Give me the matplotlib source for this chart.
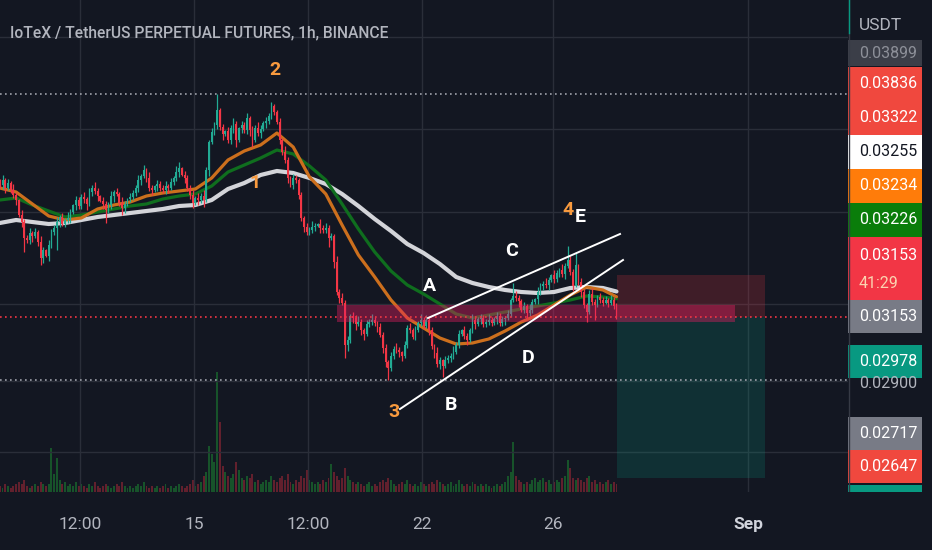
import numpy as np
import pandas as pd
import matplotlib
matplotlib.use("Agg")
import matplotlib.pyplot as plt
import matplotlib.dates as mdates
from matplotlib.patches import Rectangle

plt.rcParams['font.family'] = ['Roboto', 'DejaVu Sans']

# IOTX/USDT perp, 2h candles starting 2021-08-09 00:00, prices in 1e-5 USDT
first_open = 3693
closes = [
    3681, 3701, 3669, 3689, 3661, 3641, 3621, 3561, 3533, 3469,
    3461, 3489, 3477, 3493, 3453, 3389, 3421, 3397, 3441, 3493,
    3509, 3533, 3553, 3525, 3541, 3549, 3573, 3601, 3621, 3597,
    3633, 3625, 3605, 3653, 3669, 3657, 3637, 3617, 3605, 3581,
    3601, 3637, 3653, 3645, 3609, 3589, 3605, 3625, 3633, 3649,
    3669, 3701, 3717, 3741, 3709, 3669, 3661, 3677, 3685, 3669,
    3661, 3677, 3669, 3693, 3709, 3733, 3749, 3721, 3709, 3669,
    3641, 3609, 3629, 3621, 3637, 3621, 3741, 3853, 3893, 3921,
    3981, 3913, 3885, 3897, 3861, 3909, 3925, 3861, 3909, 3921,
    3901, 3949, 3901, 3861, 3909, 3889, 3905, 3929, 3937, 3957,
    3997, 3973, 3933, 3861, 3813, 3781, 3709, 3681, 3709, 3701,
    3641, 3549, 3513, 3493, 3501, 3513, 3517, 3525, 3509, 3501,
    3509, 3469, 3477, 3373, 3253, 3229, 3209, 3041, 3061, 3157,
    3149, 3125, 3133, 3101, 3085, 3125, 3133, 3141, 3129, 3113,
    3081, 3029, 2973, 2949, 2997, 3025, 3021, 3013, 2997, 3041,
    3109, 3101, 3073, 3101, 3129, 3141, 3117, 3141, 3101, 3037,
    3009, 2965, 2981, 2957, 2981, 2989, 2997, 3013, 3041, 3085,
    3101, 3077, 3061, 3101, 3141, 3125, 3145, 3149, 3125, 3133,
    3141, 3129, 3145, 3157, 3129, 3145, 3149, 3165, 3221, 3237,
    3229, 3217, 3181, 3197, 3169, 3181, 3213, 3225, 3253, 3277,
    3285, 3281, 3301, 3321, 3305, 3329, 3341, 3325, 3357, 3381,
    3333, 3277, 3361, 3293, 3253, 3201, 3173, 3245, 3213, 3201,
    3233, 3221, 3209, 3221, 3209, 3221, 3197, 3153]
highs = [
    3705, 3721, 3709, 3705, 3699, 3685, 3655, 3627, 3579, 3545,
    3481, 3509, 3497, 3509, 3503, 3477, 3435, 3427, 3459, 3505,
    3521, 3553, 3561, 3569, 3551, 3573, 3587, 3607, 3639, 3633,
    3645, 3653, 3633, 3669, 3679, 3693, 3671, 3643, 3635, 3617,
    3613, 3657, 3661, 3669, 3655, 3633, 3619, 3631, 3651, 3661,
    3681, 3721, 3725, 3761, 3751, 3733, 3683, 3683, 3703, 3697,
    3681, 3697, 3685, 3709, 3719, 3757, 3773, 3755, 3739, 3721,
    3679, 3661, 3637, 3647, 3649, 3661, 3755, 3861, 3911, 3933,
    4045, 3989, 3927, 3903, 3913, 3919, 3949, 3939, 3915, 3939,
    3933, 3969, 3957, 3917, 3919, 3933, 3919, 3935, 3955, 3969,
    4013, 4005, 3981, 3949, 3871, 3837, 3795, 3715, 3727, 3721,
    3709, 3655, 3557, 3531, 3513, 3537, 3531, 3531, 3543, 3521,
    3527, 3521, 3491, 3485, 3397, 3267, 3249, 3221, 3077, 3165,
    3173, 3161, 3157, 3147, 3109, 3143, 3145, 3165, 3155, 3137,
    3131, 3093, 3045, 2981, 3015, 3037, 3049, 3035, 3019, 3059,
    3121, 3129, 3111, 3117, 3139, 3165, 3155, 3161, 3159, 3113,
    3047, 3033, 2995, 2987, 2999, 3001, 3009, 3037, 3055, 3101,
    3107, 3119, 3089, 3111, 3165, 3155, 3153, 3167, 3161, 3145,
    3165, 3155, 3151, 3175, 3169, 3159, 3157, 3181, 3231, 3289,
    3257, 3243, 3225, 3213, 3207, 3205, 3227, 3231, 3271, 3289,
    3297, 3309, 3315, 3327, 3339, 3341, 3351, 3365, 3371, 3437,
    3399, 3345, 3409, 3367, 3311, 3265, 3209, 3263, 3269, 3227,
    3241, 3251, 3235, 3239, 3231, 3243, 3235, 3209]
lows = [
    3671, 3665, 3647, 3661, 3647, 3629, 3601, 3555, 3515, 3413,
    3451, 3445, 3455, 3469, 3439, 3361, 3369, 3391, 3379, 3429,
    3483, 3421, 3511, 3517, 3511, 3529, 3529, 3567, 3583, 3585,
    3587, 3609, 3583, 3597, 3639, 3645, 3617, 3611, 3587, 3529,
    3571, 3585, 3615, 3637, 3595, 3561, 3569, 3599, 3615, 3621,
    3639, 3653, 3679, 3709, 3695, 3657, 3641, 3655, 3659, 3657,
    3651, 3645, 3647, 3661, 3679, 3697, 3713, 3715, 3691, 3657,
    3627, 3589, 3603, 3603, 3609, 3593, 3611, 3719, 3845, 3881,
    3907, 3901, 3863, 3879, 3849, 3847, 3889, 3833, 3855, 3891,
    3889, 3885, 3879, 3833, 3853, 3877, 3869, 3899, 3911, 3925,
    3947, 3961, 3925, 3845, 3799, 3769, 3689, 3675, 3663, 3689,
    3627, 3537, 3493, 3481, 3483, 3489, 3497, 3511, 3491, 3489,
    3489, 3433, 3461, 3351, 3241, 3209, 3201, 2989, 3019, 3049,
    3131, 3103, 3119, 3083, 3063, 3079, 3113, 3121, 3117, 3093,
    3075, 3011, 2955, 2900, 2937, 2985, 3009, 2993, 2979, 2991,
    3031, 3089, 3065, 3061, 3093, 3117, 3105, 3111, 3083, 3025,
    2991, 2953, 2945, 2913, 2951, 2969, 2975, 2985, 3005, 3029,
    3079, 3065, 3041, 3055, 3089, 3105, 3119, 3127, 3113, 3113,
    3121, 3117, 3123, 3127, 3117, 3117, 3123, 3141, 3151, 3213,
    3217, 3195, 3173, 3169, 3147, 3157, 3169, 3207, 3207, 3241,
    3263, 3269, 3261, 3295, 3287, 3293, 3315, 3313, 3305, 3351,
    3321, 3259, 3271, 3281, 3235, 3189, 3133, 3165, 3201, 3141,
    3195, 3209, 3197, 3203, 3195, 3201, 3185, 3145]
# volume, millions IOTX
volumes = [
    3, 2, 4, 3, 2, 3, 4, 5, 4, 6,
    3, 2, 3, 4, 3, 5, 4, 3, 4, 22,
    9, 17, 6, 4, 5, 3, 4, 3, 5, 3,
    4, 3, 2, 4, 3, 5, 3, 2, 3, 4,
    3, 2, 3, 4, 3, 5, 3, 2, 3, 2,
    3, 4, 3, 5, 3, 2, 3, 2, 3, 2,
    3, 4, 2, 3, 2, 3, 4, 3, 2, 3,
    4, 6, 3, 4, 5, 8, 10, 23, 19, 15,
    60, 35, 13, 10, 8, 7, 9, 15, 11, 7,
    6, 8, 7, 9, 5, 6, 4, 5, 6, 5,
    8, 6, 5, 7, 8, 6, 9, 5, 4, 6,
    5, 8, 7, 11, 6, 5, 4, 5, 4, 6,
    5, 7, 14, 10, 8, 6, 7, 12, 8, 6,
    5, 4, 5, 4, 3, 4, 5, 3, 4, 3,
    5, 6, 5, 7, 6, 4, 3, 4, 5, 4,
    6, 4, 3, 4, 3, 5, 4, 3, 4, 5,
    4, 6, 5, 4, 3, 4, 5, 3, 4, 6,
    4, 3, 4, 3, 5, 4, 3, 4, 3, 4,
    3, 2, 3, 4, 3, 4, 5, 8, 10, 25,
    8, 6, 5, 4, 5, 4, 6, 7, 5, 6,
    7, 5, 6, 4, 5, 6, 5, 7, 8, 16,
    12, 7, 6, 7, 6, 5, 7, 8, 5, 6,
    4, 5, 4, 5, 6, 4, 5, 4]

# moving averages read every 12h (candle index)
ma_idx = [0, 6, 12, 18, 24, 30, 36, 42, 48, 54, 60, 66, 72, 78, 84, 90, 96, 102, 108,
          114, 120, 126, 132, 138, 144, 150, 156, 162, 168, 174, 180, 186, 192, 198,
          204, 210, 216, 222, 227]
ma_orange = [3669, 3653, 3605, 3557, 3541, 3549, 3585, 3601, 3613, 3637, 3649, 3657, 3665,
             3709, 3781, 3817, 3841, 3889, 3833, 3713, 3645, 3521, 3401, 3313, 3221, 3149,
             3109, 3069, 3045, 3049, 3065, 3097, 3133, 3161, 3201, 3241, 3273, 3261, 3234]
ma_green = [3621, 3629, 3601, 3577, 3553, 3561, 3573, 3585, 3597, 3605, 3625, 3637, 3645,
            3677, 3733, 3761, 3789, 3821, 3805, 3757, 3701, 3605, 3505, 3413, 3337, 3281,
            3245, 3205, 3165, 3149, 3161, 3173, 3185, 3197, 3209, 3221, 3237, 3233, 3226]
ma_white = [3529, 3541, 3533, 3525, 3529, 3541, 3553, 3561, 3569, 3577, 3585, 3597, 3601,
            3621, 3665, 3689, 3721, 3737, 3729, 3709, 3685, 3645, 3597, 3545, 3497, 3445,
            3409, 3365, 3313, 3289, 3273, 3261, 3253, 3249, 3253, 3269, 3273, 3269, 3255]

last_price = 0.03153
swing_high = 0.04045
swing_low = 0.02900
zone_lo, zone_hi = 0.03133, 0.03201
zone_t = ("2021-08-19 09:15", "2021-08-31 14:15")
stop_price, target_price = 0.03322, 0.02509
pos_t = ("2021-08-27 23:20", "2021-09-01 12:20")
upper_line = (("2021-08-22 04:15", 0.03149), ("2021-08-28 01:36", 0.03485))
lower_line = (("2021-08-21 07:37", 0.02785), ("2021-08-28 03:48", 0.03381))
waves = [("2", "2021-08-17 11:30", 0.04141), ("1", "2021-08-16 21:00", 0.03689),
         ("3", "2021-08-21 03:00", 0.02773), ("4", "2021-08-26 11:00", 0.03581)]
letters = [("A", "2021-08-22 05:40", 0.03277), ("B", "2021-08-22 21:10", 0.02801),
           ("C", "2021-08-24 18:00", 0.03417), ("D", "2021-08-25 05:50", 0.02989),
           ("E", "2021-08-26 20:30", 0.03553)]
grid_levels = [0.04273, 0.03905, 0.03573, 0.03205, 0.02897, 0.02613]
tick_times = ["2021-08-11 12:00", "2021-08-15 00:00", "2021-08-18 12:00",
              "2021-08-22 00:00", "2021-08-26 00:00", "2021-09-01 00:00"]
tick_labels = ["12:00", "15", "12:00", "22", "26", "Sep"]

# axis-side price labels (value, background, text colour)
lbl_text = ["0.03899", "0.03836", "0.03322", "0.03255", "0.03234", "0.03226",
            "0.03153", "0.03153", "0.02978", "0.02717", "0.02647", "0.02509"]
lbl_bg = ["#3b3e48", "#f0483e", "#f0483e", "#ffffff", "#ff7c0a", "#0a7d0a",
          "#f23645", "#787b86", "#089981", "#787b86", "#f0483e", "#089981"]
lbl_fg = ["#8d9099", "white", "white", "#131722", "white", "white",
          "white", "white", "white", "white", "white", "white"]
# box top/bottom in panel pixels (labels are pushed apart on the scale)
lbl_box = [(40, 66), (67, 101), (101, 135), (135, 169), (169, 203), (203, 237),
           (237, 300), (300, 333), (345, 378), (417, 450), (450, 483), (485, 518)]


def dnum(s):
    return mdates.date2num(pd.Timestamp(s).to_pydatetime())


W, H = 932, 550
BG = "#131722"
GRID = "#2a2e39"
UP, DN = "#22ab94", "#f23645"
LBL = 11.5

c = np.array(closes) / 1e5
h = np.array(highs) / 1e5
l = np.array(lows) / 1e5
o = np.r_[first_open / 1e5, c[:-1]]
n = len(c)
t = pd.Timestamp("2021-08-09 01:00") + pd.to_timedelta(np.arange(n) * 2, unit="h")
x = mdates.date2num(t.to_pydatetime())
up = c >= o
col = np.where(up, UP, DN)

fig = plt.figure(figsize=(W / 100, H / 100), dpi=100, facecolor=BG)
pos = [0, 58 / H, 848 / W, 492 / H]
axv = fig.add_axes(pos)
ax = fig.add_axes(pos, sharex=axv)
axv.set_facecolor(BG)
ax.patch.set_visible(False)
axv.set_zorder(0)
ax.set_zorder(1)

x0 = dnum("2021-08-09 01:09")
ax.set_xlim(x0, x0 + 848 / 32.6)
ax.set_ylim(0.02453, 0.04421)

# volume
vol_col = np.where(up, "#17532a", "#62202d")
axv.bar(x, volumes, width=0.06, color=vol_col, lw=0)
axv.set_ylim(0, 246)
axv.axis("off")

# grid
ax.set_yticks(grid_levels)
ax.set_xticks([dnum(s) for s in tick_times])
ax.set_xticklabels(tick_labels)
ax.grid(True, color=GRID, lw=1)
ax.set_axisbelow(True)
ax.tick_params(axis="y", left=False, labelleft=False)
ax.tick_params(axis="x", length=0, pad=18, colors="#b2b5be", labelsize=LBL + 1)
for s in ax.spines.values():
    s.set_visible(False)
sep = ax.get_xticklabels()[-1]
sep.set_color("#d1d4dc")
sep.set_fontweight("bold")

# position tool and zone
ax.add_patch(Rectangle((dnum(zone_t[0]), zone_lo), dnum(zone_t[1]) - dnum(zone_t[0]),
                       zone_hi - zone_lo, color="#e91e63", alpha=0.4, lw=0, zorder=4))
p0, p1 = dnum(pos_t[0]), dnum(pos_t[1])
ax.add_patch(Rectangle((p0, last_price), p1 - p0, stop_price - last_price,
                       color="#f23645", alpha=0.2, lw=0, zorder=1))
ax.add_patch(Rectangle((p0, target_price), p1 - p0, last_price - target_price,
                       color="#089981", alpha=0.2, lw=0, zorder=1))

# moving averages
mx = x[ma_idx]
ax.plot(mx, np.array(ma_white) / 1e5, color="#d3d4d9", lw=3.0, zorder=2,
        solid_capstyle="round", solid_joinstyle="round")
ax.plot(mx, np.array(ma_green) / 1e5, color="#0f6e1e", lw=2.3, zorder=2,
        solid_capstyle="round", solid_joinstyle="round")
ax.plot(mx, np.array(ma_orange) / 1e5, color="#cc6f1d", lw=2.3, zorder=2,
        solid_capstyle="round", solid_joinstyle="round")

# candles
ax.vlines(x, l, h, colors=col, lw=0.9, zorder=3)
body = np.maximum(np.abs(c - o), 0.00003)
ax.bar(x, body, bottom=np.minimum(o, c), width=0.055, color=col, lw=0, zorder=3)

# horizontal levels
ax.axhline(swing_high, color="#9fa2ab", lw=1.2, ls=(0, (1, 2)), zorder=2)
ax.axhline(swing_low, color="#9fa2ab", lw=1.2, ls=(0, (1, 2)), zorder=2)
ax.axhline(last_price, color="#f23645", lw=1.2, ls=(0, (1, 2)), zorder=5)

# trend lines
for (ta, pa), (tb, pb) in (upper_line, lower_line):
    ax.plot([dnum(ta), dnum(tb)], [pa, pb], color="white", lw=1.4, zorder=6)

for s, tt, p in waves:
    ax.text(dnum(tt), p, s, color="#f89a3e", fontsize=14,
            fontweight="bold", ha="center", va="center", zorder=7)
for s, tt, p in letters:
    ax.text(dnum(tt), p, s, color="white", fontsize=14,
            fontweight="bold", ha="center", va="center", zorder=7)

# right price scale
axr = fig.add_axes([848 / W, 58 / H, 84 / W, 492 / H])
axr.set_xlim(0, 84)
axr.set_ylim(492, 0)
axr.axis("off")
axr.text(11, 384, "0.02900", color="#b2b5be", fontsize=LBL, va="center")
for txt, bg, fg, (y0, y1) in zip(lbl_text, lbl_bg, lbl_fg, lbl_box):
    axr.add_patch(Rectangle((0, y0), 74, y1 - y0, color=bg, lw=0, zorder=2))
    yc = 255 if (y1 - y0) > 40 else (y0 + y1) / 2
    axr.text(11, yc, txt, color=fg, fontsize=LBL, va="center", zorder=3, clip_on=True)
axr.text(11, 283, "41:29", color="#fbd3b0", fontsize=LBL, va="center", zorder=3)
axr.add_patch(Rectangle((0, 0), 84, 40, color=BG, lw=0, zorder=4))
axr.text(11, 25, "USDT", color="#b2b5be", fontsize=LBL + 1, va="center", zorder=5)
axr.plot([0.5, 0.5], [0, 492], color="#363a45", lw=1, zorder=6)
axr.plot([0.5, 0.5], [0, 33], color="#089981", lw=1, zorder=7)

title = fig.text(10 / W, 1 - 33 / H, "IoTeX / TetherUS PERPETUAL FUTURES, 1h, BINANCE",
                 color="#b2b5be", fontsize=14, fontweight="medium", va="center", ha="left")
fig.canvas.draw()
w = title.get_window_extent().width
title.set_fontsize(14 * 380 / w)

fig.savefig("out.png", dpi=100, facecolor=BG)
